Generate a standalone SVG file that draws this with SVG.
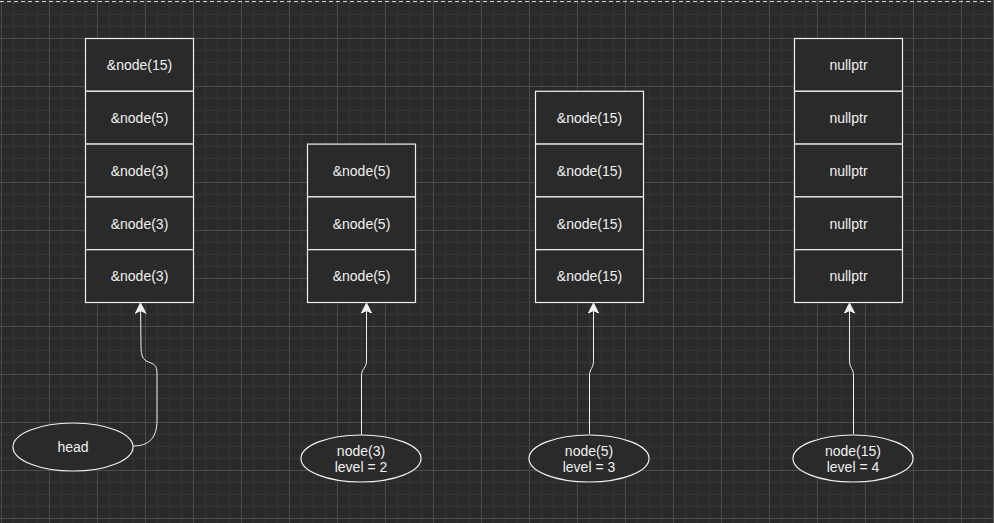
<svg xmlns="http://www.w3.org/2000/svg" width="994" height="523" viewBox="0 0 994 523">
<defs>
<pattern id="minor" x="1" y="2" width="12" height="12" patternUnits="userSpaceOnUse">
<path d="M0.5,0 V12 M0,0.5 H12" fill="none" stroke="#343434" stroke-width="1"/>
</pattern>
<pattern id="major" x="1" y="38" width="48" height="48" patternUnits="userSpaceOnUse">
<path d="M0.5,0 V48 M0,0.5 H48" fill="none" stroke="#4a4a4a" stroke-width="1"/>
</pattern>
<marker id="arr" viewBox="-11 -6 12 12" refX="0" refY="0" markerWidth="12" markerHeight="12" markerUnits="userSpaceOnUse" orient="auto">
<path d="M0,0 L-10,-5 L-7.5,0 L-10,5 Z" fill="#f0f0f0" stroke="#f0f0f0" stroke-width="1"/>
</marker>
<style>
.cell{fill:#2a2a2a;stroke:#f0f0f0;stroke-width:1.2}
.t{font-family:"Liberation Sans",Arial,sans-serif;font-size:14px;fill:#f0f0f0;text-anchor:middle}
.ell{fill:#2a2a2a;stroke:#f0f0f0;stroke-width:1.2}
.edge{fill:none;stroke:#f0f0f0;stroke-width:1}
</style>
</defs>
<rect width="994" height="523" fill="#2a2a2a"/>
<rect width="994" height="523" fill="url(#minor)"/>
<rect width="994" height="523" fill="url(#major)"/>
<line x1="0" y1="1.5" x2="994" y2="1.5" stroke="#cfcfcf" stroke-width="1" stroke-dasharray="4 3"/>
<line x1="993.5" y1="0" x2="993.5" y2="523" stroke="#5a5a5a" stroke-width="1"/>

<g id="col1">
<rect class="cell" x="85.5" y="38.5" width="108" height="52.8"/>
<text class="t" x="139.5" y="70">&amp;node(15)</text>
<rect class="cell" x="85.5" y="91.3" width="108" height="52.8"/>
<text class="t" x="139.5" y="123">&amp;node(5)</text>
<rect class="cell" x="85.5" y="144.1" width="108" height="52.8"/>
<text class="t" x="139.5" y="175.5">&amp;node(3)</text>
<rect class="cell" x="85.5" y="196.9" width="108" height="52.8"/>
<text class="t" x="139.5" y="228.5">&amp;node(3)</text>
<rect class="cell" x="85.5" y="249.7" width="108" height="52.8"/>
<text class="t" x="139.5" y="281">&amp;node(3)</text>
</g>

<g id="col2">
<rect class="cell" x="307.5" y="144.1" width="108" height="52.8"/>
<text class="t" x="361.5" y="175.5">&amp;node(5)</text>
<rect class="cell" x="307.5" y="196.9" width="108" height="52.8"/>
<text class="t" x="361.5" y="228.5">&amp;node(5)</text>
<rect class="cell" x="307.5" y="249.7" width="108" height="52.8"/>
<text class="t" x="361.5" y="281">&amp;node(5)</text>
</g>

<g id="col3">
<rect class="cell" x="535.5" y="91.3" width="108" height="52.8"/>
<text class="t" x="589.5" y="123">&amp;node(15)</text>
<rect class="cell" x="535.5" y="144.1" width="108" height="52.8"/>
<text class="t" x="589.5" y="175.5">&amp;node(15)</text>
<rect class="cell" x="535.5" y="196.9" width="108" height="52.8"/>
<text class="t" x="589.5" y="228.5">&amp;node(15)</text>
<rect class="cell" x="535.5" y="249.7" width="108" height="52.8"/>
<text class="t" x="589.5" y="281">&amp;node(15)</text>
</g>

<g id="col4">
<rect class="cell" x="794.5" y="38.5" width="108" height="52.8"/>
<text class="t" x="848.5" y="70">nullptr</text>
<rect class="cell" x="794.5" y="91.3" width="108" height="52.8"/>
<text class="t" x="848.5" y="123">nullptr</text>
<rect class="cell" x="794.5" y="144.1" width="108" height="52.8"/>
<text class="t" x="848.5" y="175.5">nullptr</text>
<rect class="cell" x="794.5" y="196.9" width="108" height="52.8"/>
<text class="t" x="848.5" y="228.5">nullptr</text>
<rect class="cell" x="794.5" y="249.7" width="108" height="52.8"/>
<text class="t" x="848.5" y="281">nullptr</text>
</g>

<g id="head">
<ellipse class="ell" cx="73" cy="447" rx="60" ry="24"/>
<text class="t" x="73" y="452">head</text>
</g>
<g id="node3">
<ellipse class="ell" cx="361" cy="458.5" rx="60" ry="23.5"/>
<text class="t" x="361" y="456">node(3)</text>
<text class="t" x="361" y="472">level = 2</text>
</g>
<g id="node5">
<ellipse class="ell" cx="589" cy="458.5" rx="60" ry="23.5"/>
<text class="t" x="589" y="456">node(5)</text>
<text class="t" x="589" y="472">level = 3</text>
</g>
<g id="node15">
<ellipse class="ell" cx="853" cy="458.5" rx="60" ry="23.5"/>
<text class="t" x="853" y="456">node(15)</text>
<text class="t" x="853" y="472">level = 4</text>
</g>

<g id="connectors">
<path class="edge" d="M133,446 C149,446 157,438 157,420 L157,374 C157,365 154,364 148.5,362 C143,360 141,356 141,346 L140.5,303" marker-end="url(#arr)"/>
<path class="edge" d="M361.5,435 L361.5,376 C361.5,368 366.5,369 366.5,360 L366.5,303" marker-end="url(#arr)"/>
<path class="edge" d="M589.5,434 L589.5,376 C589.5,368 593.5,369 593.5,360 L593.5,303" marker-end="url(#arr)"/>
<path class="edge" d="M853.5,434 L853.5,376 C853.5,368 849.5,369 849.5,360 L849.5,303" marker-end="url(#arr)"/>
</g>
</svg>
